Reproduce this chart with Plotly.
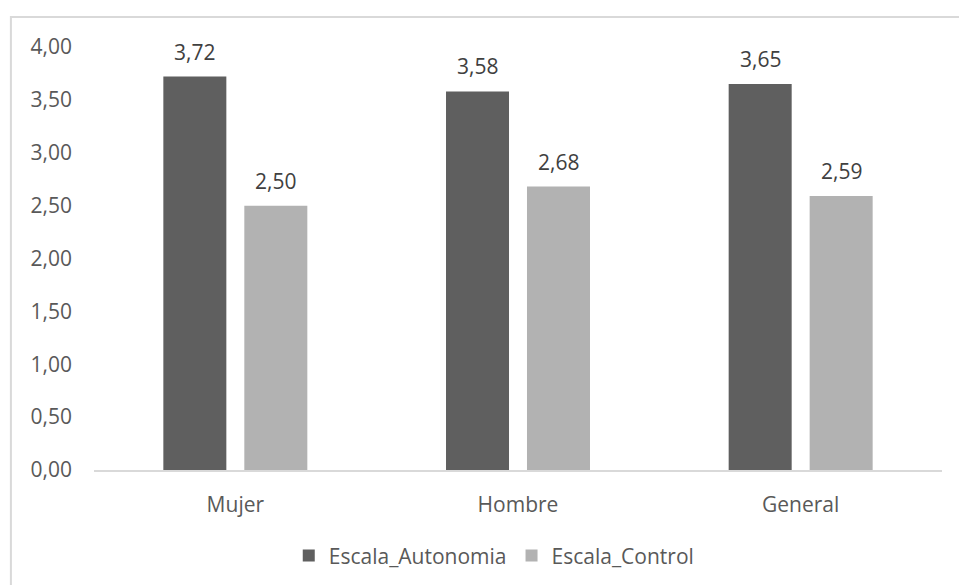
import plotly.graph_objects as go

categories = ["Mujer", "Hombre", "General"]
autonomia = [3.72, 3.58, 3.65]
control = [2.50, 2.68, 2.59]
y_ticks = [0, 0.5, 1, 1.5, 2, 2.5, 3, 3.5, 4]

FONT = "Open Sans"
DARK = "#5f5f5f"
LIGHT = "#b2b2b2"
SIZE = 21


def es(v):
    return f"{v:.2f}".replace(".", ",")


fig = go.Figure()
fig.add_trace(go.Bar(name="Escala_Autonomia", x=categories, y=autonomia,
                     marker=dict(color=DARK, line=dict(width=0))))
fig.add_trace(go.Bar(name="Escala_Control", x=categories, y=control,
                     marker=dict(color=LIGHT, line=dict(width=0))))

# value labels above each bar
annotations = []
for vals, shift in ((autonomia, -40.5), (control, 40.5)):
    for c, v in zip(categories, vals):
        annotations.append(dict(x=c, y=v, xref="x", yref="y", text=es(v),
                                showarrow=False, xshift=shift, yshift=25,
                                font=dict(family=FONT, size=SIZE, color="#404040")))

fig.update_layout(
    width=959, height=585,
    margin=dict(l=94, r=17, t=47, b=115, autoexpand=False),
    paper_bgcolor="white", plot_bgcolor="white",
    barmode="group", bargap=0.427, bargroupgap=0.222,
    font=dict(family=FONT, size=SIZE, color="#595959"),
    annotations=annotations,
    showlegend=True,
    legend=dict(orientation="h", x=0.472, xanchor="center", y=-0.203,
                yanchor="middle", font=dict(family=FONT, size=SIZE, color="#595959"),
                itemwidth=30, traceorder="normal"),
    shapes=[dict(type="rect", xref="paper", yref="paper",
                 x0=-0.098, x1=1.05, y0=-0.35, y1=1.071,
                 line=dict(color="#d9d9d9", width=2), layer="below")],
)
fig.update_xaxes(showgrid=False, showline=True, linecolor="#d9d9d9", linewidth=2,
                 ticks="", ticklabelstandoff=15,
                 tickfont=dict(size=SIZE, color="#595959"))
fig.update_yaxes(range=[0, 4], tickvals=y_ticks, ticktext=[es(t) for t in y_ticks],
                 showgrid=False, zeroline=False, showline=False, ticks="",
                 ticklabelstandoff=21, tickfont=dict(size=SIZE, color="#595959"))

fig.write_html("out.html")
